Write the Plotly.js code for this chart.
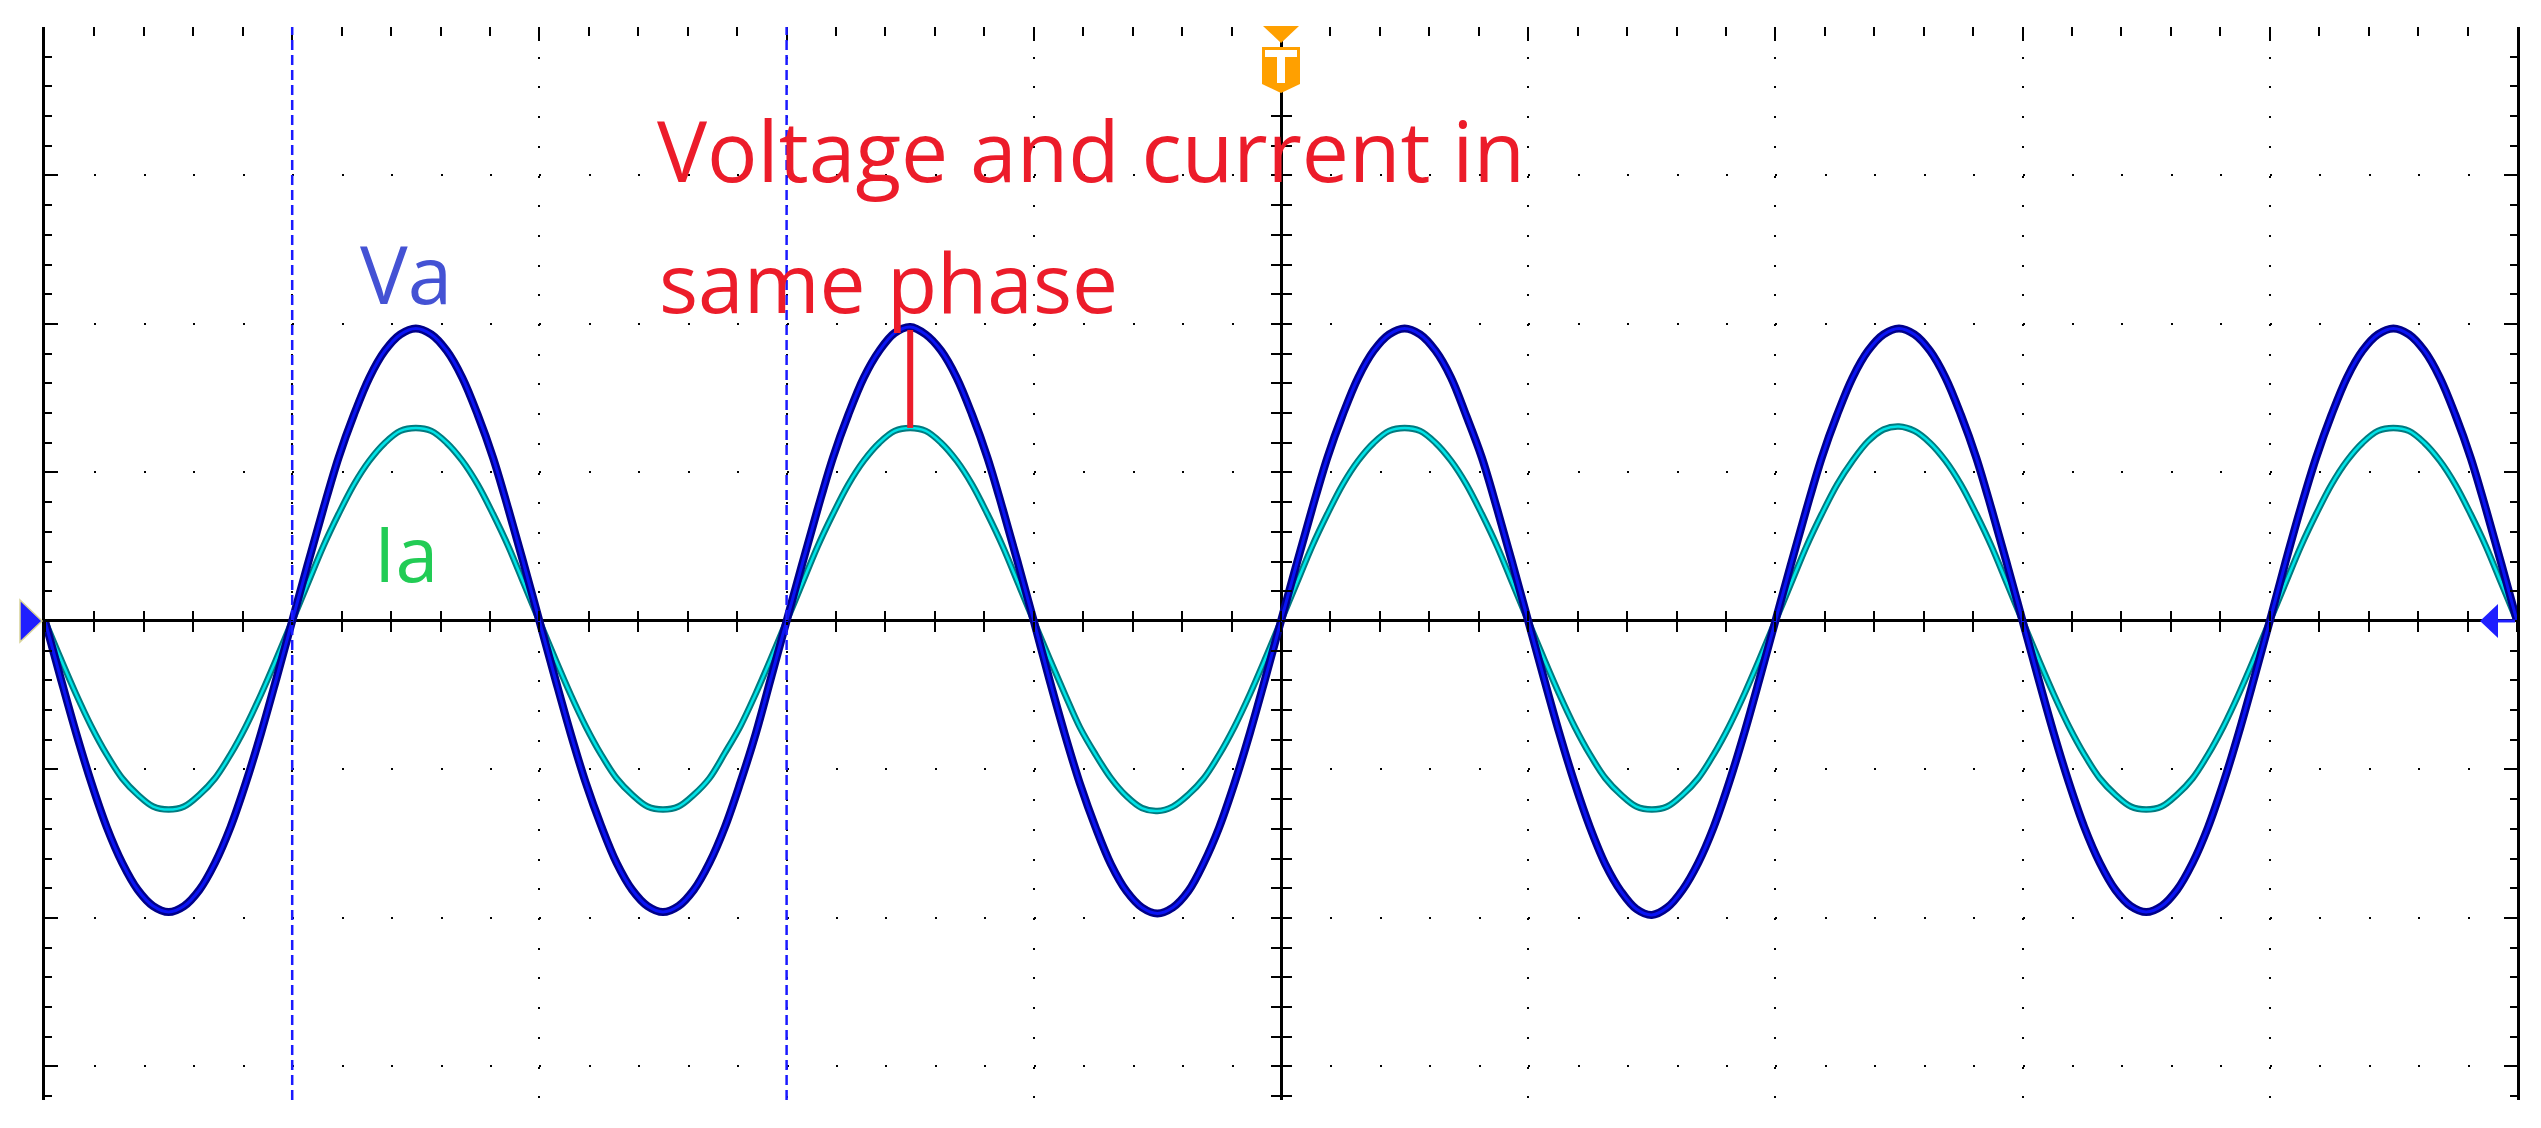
<!DOCTYPE html>
<html>
<head>
<meta charset="utf-8">
<script src="https://cdn.plot.ly/plotly-3.0.1.min.js"></script>
<style>
  html, body { margin: 0; padding: 0; background: #fff; }
  #scope { width: 2541px; height: 1128px; }
</style>
</head>
<body>
<div id="scope"></div>
<script>
// scope runs at 10 ms/div, trace sampled every 0.625 ms (16 points per div)
var tStart = -50;
var tStep = 0.625;

// Va in divisions
var vaDiv = [
  0, -0.38, -0.75, -1.09, -1.39, -1.63, -1.81, -1.92, -1.96, -1.92, -1.81, -1.63, -1.39, -1.09, -0.75, -0.38,
  0, 0.38, 0.75, 1.10, 1.39, 1.64, 1.82, 1.93, 1.97, 1.93, 1.82, 1.64, 1.39, 1.10, 0.75, 0.38,
  0, -0.38, -0.75, -1.09, -1.38, -1.63, -1.81, -1.92, -1.96, -1.92, -1.81, -1.63, -1.39, -1.09, -0.76, -0.38,
  0, 0.38, 0.75, 1.10, 1.39, 1.64, 1.82, 1.94, 1.98, 1.93, 1.82, 1.64, 1.39, 1.10, 0.75, 0.38,
  0, -0.39, -0.76, -1.10, -1.39, -1.64, -1.82, -1.93, -1.97, -1.93, -1.82, -1.63, -1.39, -1.09, -0.75, -0.38,
  0, 0.38, 0.75, 1.10, 1.39, 1.64, 1.82, 1.93, 1.97, 1.93, 1.82, 1.64, 1.38, 1.10, 0.75, 0.38,
  0, -0.38, -0.75, -1.09, -1.39, -1.64, -1.82, -1.94, -1.98, -1.93, -1.81, -1.63, -1.39, -1.09, -0.75, -0.38,
  0, 0.38, 0.75, 1.10, 1.39, 1.64, 1.82, 1.93, 1.97, 1.93, 1.82, 1.64, 1.39, 1.10, 0.75, 0.38,
  0, -0.38, -0.75, -1.09, -1.39, -1.63, -1.81, -1.92, -1.96, -1.92, -1.81, -1.63, -1.39, -1.09, -0.75, -0.38,
  0, 0.39, 0.76, 1.10, 1.39, 1.64, 1.82, 1.93, 1.97, 1.93, 1.82, 1.64, 1.39, 1.10, 0.75, 0.38,
  0
];

// Ia in divisions
var iaDiv = [
  0, -0.25, -0.49, -0.71, -0.90, -1.06, -1.17, -1.25, -1.27, -1.25, -1.17, -1.06, -0.90, -0.71, -0.49, -0.25,
  0, 0.25, 0.50, 0.72, 0.92, 1.08, 1.20, 1.28, 1.30, 1.28, 1.20, 1.08, 0.92, 0.72, 0.50, 0.25,
  0, -0.25, -0.49, -0.71, -0.90, -1.06, -1.17, -1.25, -1.27, -1.25, -1.17, -1.06, -0.89, -0.71, -0.49, -0.25,
  0, 0.25, 0.50, 0.72, 0.92, 1.08, 1.20, 1.28, 1.30, 1.28, 1.20, 1.08, 0.92, 0.72, 0.50, 0.25,
  0, -0.25, -0.49, -0.72, -0.90, -1.06, -1.18, -1.26, -1.28, -1.25, -1.17, -1.06, -0.90, -0.71, -0.49, -0.25,
  0, 0.25, 0.50, 0.72, 0.92, 1.08, 1.20, 1.28, 1.30, 1.28, 1.20, 1.08, 0.92, 0.72, 0.50, 0.25,
  0, -0.25, -0.49, -0.71, -0.90, -1.06, -1.17, -1.25, -1.27, -1.25, -1.17, -1.06, -0.90, -0.71, -0.49, -0.25,
  0, 0.25, 0.50, 0.72, 0.92, 1.08, 1.21, 1.29, 1.31, 1.28, 1.20, 1.08, 0.92, 0.72, 0.50, 0.25,
  0, -0.25, -0.49, -0.71, -0.90, -1.06, -1.17, -1.25, -1.27, -1.25, -1.17, -1.06, -0.90, -0.71, -0.49, -0.25,
  0, 0.25, 0.50, 0.72, 0.92, 1.08, 1.20, 1.28, 1.30, 1.28, 1.20, 1.08, 0.92, 0.72, 0.50, 0.25,
  0
];

// the two blue time cursors (ms)
var cursorTimes = [-40, -20];
// sample where the peaks line up (red marker)
var peakIdx = 56;

var labelTexts = ["Voltage and current in", "same phase", "Va", "Ia"];

// screen geometry
var W = 2541, H = 1128;
var mar = {l: 45, r: 24, t: 27, b: 28};
var plotW = W - mar.l - mar.r, plotH = H - mar.t - mar.b;
var xRange = [-50, 50];
var yRange = [-3.226, 4];
var zeroFrac = (0 - yRange[0]) / (yRange[1] - yRange[0]);

function px2x(px) { return (px - mar.l) / plotW; }
function px2y(py) { return (H - mar.b - py) / plotH; }

var dotV = "2px,27.7px";   // dots every 0.2 div down the columns
var dotH = "2px,47.44px";  // dots every 0.2 div along the rows

function trace(vals, color, width, name) {
  return {
    y: vals, x0: tStart, dx: tStep,
    type: "scatter", mode: "lines", name: name,
    line: {color: color, width: width, shape: "spline", smoothing: 1, simplify: false},
    hoverinfo: "skip", showlegend: false
  };
}

var data = [
  trace(iaDiv, "#007b80", 6.5, "Ia"),
  trace(iaDiv, "#00e4e8", 2.5, "Ia"),
  trace(vaDiv, "#000088", 8, "Va"),
  trace(vaDiv, "#0a14f5", 3, "Va"),
  // placeholders so the crosshair tick axes get drawn
  {x: [null], y: [null], xaxis: "x2", yaxis: "y", mode: "lines", showlegend: false},
  {x: [null], y: [null], xaxis: "x3", yaxis: "y", mode: "lines", showlegend: false},
  {x: [null], y: [null], xaxis: "x", yaxis: "y2", mode: "lines", showlegend: false},
  {x: [null], y: [null], xaxis: "x", yaxis: "y3", mode: "lines", showlegend: false}
];

function crossX(dir) {
  return {
    overlaying: "x", anchor: "free", position: zeroFrac, side: "bottom",
    range: xRange, showgrid: false, zeroline: false, showline: false,
    showticklabels: false, ticks: dir, ticklen: 10, tickwidth: 2,
    tickcolor: "#000", tick0: 0, dtick: 2
  };
}
function crossY(dir) {
  return {
    overlaying: "y", anchor: "free", position: 0.5, side: "left",
    range: yRange, showgrid: false, zeroline: false, showline: false,
    showticklabels: false, ticks: dir, ticklen: 10, tickwidth: 2,
    tickcolor: "#000", tick0: 0, dtick: 0.2
  };
}

var shapes = cursorTimes.map(function (t) {
  return {
    type: "line", xref: "x", yref: "paper", x0: t, x1: t, y0: 0, y1: 1,
    line: {color: "#1a1aff", width: 2.5, dash: "10px,5px"}, layer: "above"
  };
});

// red marker between the two peaks
shapes.push({
  type: "line", xref: "x", yref: "y",
  x0: tStart + peakIdx * tStep, x1: tStart + peakIdx * tStep,
  y0: vaDiv[peakIdx] - 0.02, y1: iaDiv[peakIdx],
  line: {color: "#ec1c2a", width: 6}, layer: "above"
});

// trigger marker (orange) at top centre
shapes.push({
  type: "path", xref: "paper", yref: "paper", xsizemode: "pixel", ysizemode: "pixel",
  xanchor: 0.5, yanchor: 1, path: "M-18,1 L18,1 L0,-16 Z",
  fillcolor: "#ffa000", line: {width: 0}, layer: "above"
});
shapes.push({
  type: "path", xref: "paper", yref: "paper", xsizemode: "pixel", ysizemode: "pixel",
  xanchor: 0.5, yanchor: 1, path: "M-19,-20 L19,-20 L19,-57 L0,-66 L-19,-57 Z",
  fillcolor: "#ffa000", line: {width: 0}, layer: "above"
});
shapes.push({
  type: "path", xref: "paper", yref: "paper", xsizemode: "pixel", ysizemode: "pixel",
  xanchor: 0.5, yanchor: 1,
  path: "M-16,-23 L16,-23 L16,-30 L4,-30 L4,-56 L-4,-56 L-4,-30 L-16,-30 Z",
  fillcolor: "#ffffff", line: {width: 0}, layer: "above"
});

// ground markers of the channels
shapes.push({
  type: "path", xref: "paper", yref: "paper", xsizemode: "pixel", ysizemode: "pixel",
  xanchor: 0, yanchor: zeroFrac, path: "M-25,21 L-3,0 L-25,-21 Z",
  fillcolor: "#1f1fff", line: {color: "#d8d49a", width: 1.5}, layer: "above"
});
shapes.push({
  type: "path", xref: "paper", yref: "paper", xsizemode: "pixel", ysizemode: "pixel",
  xanchor: 1, yanchor: zeroFrac, path: "M-19,17 L-37,0 L-19,-17 Z",
  fillcolor: "#1f1fff", line: {width: 0}, layer: "above"
});
shapes.push({
  type: "path", xref: "paper", yref: "paper", xsizemode: "pixel", ysizemode: "pixel",
  xanchor: 1, yanchor: zeroFrac, path: "M-20,0 L-2,0",
  line: {color: "#1f1fff", width: 3}, layer: "above"
});

var redFont = {family: "Open Sans, Noto Sans, sans-serif", size: 82, color: "#ec1c2a"};
var annotations = [
  {text: labelTexts[0], x: px2x(655), y: px2y(150),
   font: {family: redFont.family, size: 84, color: redFont.color}},
  {text: labelTexts[1], x: px2x(657), y: px2y(281), font: redFont},
  {text: labelTexts[2], x: px2x(358), y: px2y(272),
   font: {family: "Open Sans, sans-serif", size: 80, color: "#4452d4"}},
  {text: labelTexts[3], x: px2x(372), y: px2y(552),
   font: {family: "Open Sans, sans-serif", size: 77, color: "#22cc55"}}
].map(function (a) {
  a.xref = "paper"; a.yref = "paper"; a.xanchor = "left"; a.yanchor = "middle";
  a.showarrow = false;
  return a;
});

var layout = {
  width: W, height: H,
  margin: mar,
  paper_bgcolor: "#ffffff", plot_bgcolor: "#ffffff",
  showlegend: false,
  xaxis: {
    range: xRange, side: "top", anchor: "y",
    showgrid: true, gridcolor: "#000", gridwidth: 2, griddash: dotV,
    tick0: 0, dtick: 10,
    zeroline: true, zerolinecolor: "#000", zerolinewidth: 3,
    showline: false, showticklabels: false,
    ticks: "inside", ticklen: 14, tickwidth: 2, tickcolor: "#000",
    minor: {dtick: 2, ticks: "inside", ticklen: 9, tickwidth: 2, tickcolor: "#000", showgrid: false}
  },
  yaxis: {
    range: yRange, anchor: "x",
    showgrid: true, gridcolor: "#000", gridwidth: 2, griddash: dotH,
    tick0: 0, dtick: 1,
    zeroline: true, zerolinecolor: "#000", zerolinewidth: 3,
    showline: true, linecolor: "#000", linewidth: 3, mirror: "ticks",
    showticklabels: false,
    ticks: "inside", ticklen: 13, tickwidth: 2, tickcolor: "#000",
    minor: {dtick: 0.2, ticks: "inside", ticklen: 7, tickwidth: 2, tickcolor: "#000", showgrid: false}
  },
  xaxis2: crossX("outside"),
  xaxis3: crossX("inside"),
  yaxis2: crossY("outside"),
  yaxis3: crossY("inside"),
  shapes: shapes,
  annotations: annotations
};

Plotly.newPlot("scope", data, layout, {staticPlot: true, displayModeBar: false});
</script>
</body>
</html>
